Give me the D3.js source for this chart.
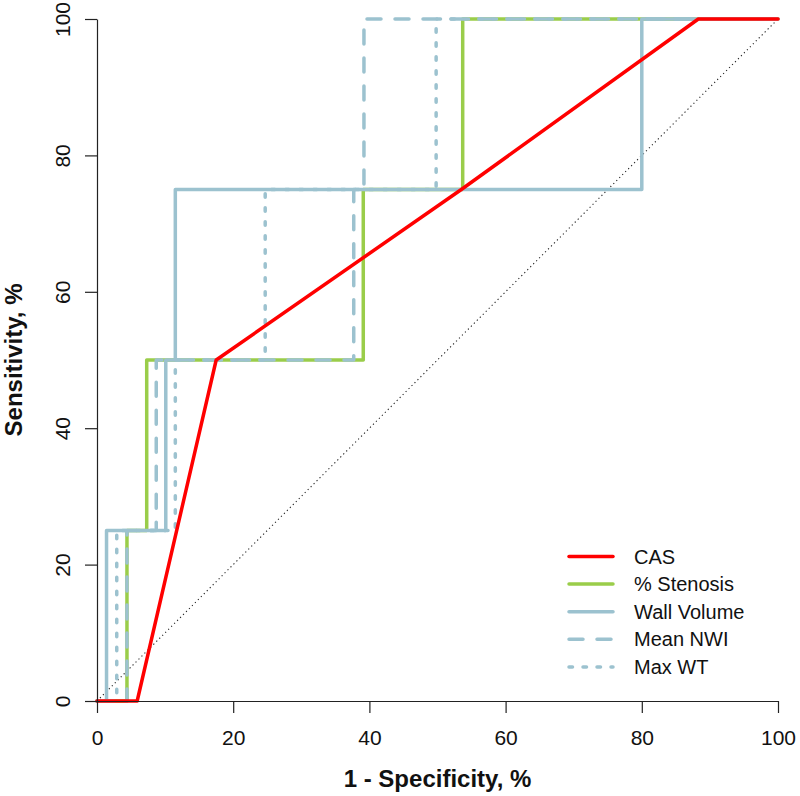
<!DOCTYPE html>
<html>
<head>
<meta charset="utf-8">
<script src="https://cdn.jsdelivr.net/npm/d3@7"></script>
<style>
  body { margin: 0; background: #fff; }
  svg { display: block; font-family: "Liberation Sans", Arial, sans-serif; }
</style>
</head>
<body>
<svg id="chart" width="800" height="796"></svg>
<script>
// ---- Data (1 - Specificity %, Sensitivity %) ----
const seriesNames = ["CAS", "% Stenosis", "Wall Volume", "Mean NWI", "Max WT"];
const casX      = [0, 5.9, 17.5, 53.5, 88.3, 100];
const casY      = [0, 0, 50, 75, 100, 100];
const stenosisX = [0, 4.4, 4.4, 7.3, 7.3, 39.1, 39.1, 53.7, 53.7, 100];
const stenosisY = [0, 0, 25, 25, 50, 50, 75, 75, 100, 100];
const wallVolX  = [0, 1.4, 1.4, 10.1, 10.1, 11.5, 11.5, 80.0, 80.0, 100];
const wallVolY  = [0, 0, 25, 25, 50, 50, 75, 75, 100, 100];
const meanNwiX  = [0, 4.4, 4.4, 8.7, 8.7, 37.7, 37.7, 39.2, 39.2, 100];
const meanNwiY  = [0, 0, 25, 25, 50, 50, 75, 75, 100, 100];
const maxWtX    = [0, 2.9, 2.9, 11.5, 11.5, 24.7, 24.7, 49.8, 49.8, 100];
const maxWtY    = [0, 0, 25, 25, 50, 50, 75, 75, 100, 100];
const refX = [0, 100];
const refY = [0, 100];
const xTicks = [0, 20, 40, 60, 80, 100];
const yTicks = [0, 20, 40, 60, 80, 100];

const red = "#ff0000", green = "#9acd4a", blue = "#9cc2cf";
const styles = {
  "CAS":         { color: red,   dash: null },
  "% Stenosis":  { color: green, dash: null },
  "Wall Volume": { color: blue,  dash: null },
  "Mean NWI":    { color: blue,  dash: "14,14" },
  "Max WT":      { color: blue,  dash: "3.5,10.5" }
};
const LW = 3.5;

const svg = d3.select("#chart");
const x = d3.scaleLinear().domain([0, 100]).range([97, 778]);
const y = d3.scaleLinear().domain([0, 100]).range([701, 19]);

const line = d3.line().x(d => x(d[0])).y(d => y(d[1]));
const zip = (a, b) => a.map((v, i) => [v, b[i]]);

// reference diagonal
svg.append("path")
  .attr("d", line(zip(refX, refY)))
  .attr("fill", "none").attr("stroke", "#222").attr("stroke-width", 1.1)
  .attr("stroke-dasharray", "1.2,3").attr("stroke-linecap", "butt");

const data = {
  "CAS": zip(casX, casY),
  "% Stenosis": zip(stenosisX, stenosisY),
  "Wall Volume": zip(wallVolX, wallVolY),
  "Mean NWI": zip(meanNwiX, meanNwiY),
  "Max WT": zip(maxWtX, maxWtY)
};
const drawOrder = ["% Stenosis", "Wall Volume", "Mean NWI", "Max WT", "CAS"];
drawOrder.forEach(name => {
  const s = styles[name];
  const p = svg.append("path")
    .attr("d", line(data[name]))
    .attr("fill", "none").attr("stroke", s.color).attr("stroke-width", LW)
    .attr("stroke-linecap", "round").attr("stroke-linejoin", "round");
  if (s.dash) p.attr("stroke-dasharray", s.dash);
});

// axes
const xAxis = svg.append("g").attr("transform", "translate(0,701)")
  .call(d3.axisBottom(x).tickValues(xTicks).tickSize(12).tickSizeOuter(0).tickPadding(17));
const yAxis = svg.append("g").attr("transform", "translate(97,0)")
  .call(d3.axisLeft(y).tickValues(yTicks).tickSize(12).tickSizeOuter(0));
[xAxis, yAxis].forEach(g => {
  g.select(".domain").attr("stroke", "#222").attr("stroke-width", 1.2);
  g.selectAll(".tick line").attr("stroke", "#222").attr("stroke-width", 1.2);
  g.selectAll("text").attr("font-size", 21).attr("fill", "#111")
    .attr("font-family", "'Liberation Sans', Arial, sans-serif");
});
yAxis.selectAll(".tick text")
  .attr("x", 0).attr("dy", 0).attr("text-anchor", "middle")
  .attr("transform", "translate(-27,0) rotate(-90)");

// axis titles
svg.append("text").attr("x", 437.5).attr("y", 787).attr("text-anchor", "middle")
  .attr("font-size", 24).attr("font-weight", "bold").attr("fill", "#111")
  .text("1 - Specificity, %");
svg.append("text").attr("transform", "translate(22,360) rotate(-90)")
  .attr("text-anchor", "middle")
  .attr("font-size", 24).attr("font-weight", "bold").attr("fill", "#111")
  .text("Sensitivity, %");

// legend
const legY0 = 556.5, legStep = 27.6;
seriesNames.forEach((name, i) => {
  const s = styles[name];
  const yy = legY0 + i * legStep;
  const l = svg.append("line").attr("x1", 569).attr("x2", 613).attr("y1", yy).attr("y2", yy)
    .attr("stroke", s.color).attr("stroke-width", LW).attr("stroke-linecap", "round");
  if (s.dash) l.attr("stroke-dasharray", s.dash);
  svg.append("text").attr("x", 634).attr("y", yy + 7).attr("font-size", 20).attr("fill", "#111")
    .text(name);
});
</script>
</body>
</html>
